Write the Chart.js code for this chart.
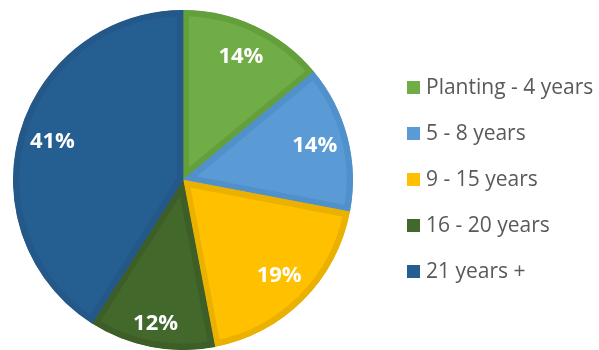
<!DOCTYPE html>
<html>
<head>
<meta charset="utf-8">
<script src="https://cdn.jsdelivr.net/npm/chart.js@4"></script>
<style>
  html, body { margin: 0; padding: 0; background: #ffffff; }
  #wrap { position: relative; width: 599px; height: 350px; }
</style>
</head>
<body>
<div id="wrap"><canvas id="chartEdad"></canvas></div>
<script>
// =========================================
// DATOS
// =========================================
const categorias = ['Planting - 4 years', '5 - 8 years', '9 - 15 years', '16 - 20 years', '21 years +'];
const porcentajes = [14, 14, 19, 12, 41];
const rellenos = ['#70AD47', '#5B9BD5', '#FFC000', '#43682B', '#255E91'];
const bordes = ['#63A03C', '#5090CB', '#EBB100', '#3D5F27', '#235889'];

// =========================================
// ETIQUETAS DENTRO DE CADA PORCION
// =========================================
// distancia al centro (fraccion del radio) de cada etiqueta
const distEtiqueta = [0.8, 0.8, 0.8, 0.86, 0.8];

const etiquetas = {
  id: 'etiquetas',
  afterDatasetsDraw(chart){
    const ctx = chart.ctx;
    const meta = chart.getDatasetMeta(0);
    ctx.save();
    ctx.fillStyle = '#ffffff';
    ctx.font = 'bold 22px "Open Sans"';
    ctx.textAlign = 'center';
    ctx.textBaseline = 'middle';
    meta.data.forEach((arc, i) => {
      const p = arc.getProps(['x', 'y', 'startAngle', 'endAngle', 'outerRadius']);
      const mid = (p.startAngle + p.endAngle) / 2;
      const r = p.outerRadius * distEtiqueta[i];
      ctx.fillText(porcentajes[i] + '%', p.x + Math.cos(mid) * r, p.y + Math.sin(mid) * r);
    });
    ctx.restore();
  }
};

// =========================================
// LEYENDA A LA DERECHA
// =========================================
const leyenda = {
  id: 'leyenda',
  afterDraw(chart){
    const ctx = chart.ctx;
    ctx.save();
    ctx.font = '21px "Open Sans"';
    ctx.textBaseline = 'middle';
    chart.data.labels.forEach((txt, i) => {
      const y = 87 + i * 46;
      ctx.fillStyle = chart.data.datasets[0].backgroundColor[i];
      ctx.fillRect(407, y - 6, 13, 13);
      ctx.fillStyle = '#595959';
      ctx.fillText(txt, 426, y + 1);
    });
    ctx.restore();
  }
};

new Chart(document.getElementById('chartEdad'), {

  type: 'pie',

  data: {
    labels: categorias,
    datasets: [{
      data: porcentajes,
      backgroundColor: rellenos,
      borderColor: bordes,
      borderWidth: 6,
      borderAlign: 'inner'
    }]
  },

  options:{
    responsive:true,
    maintainAspectRatio:false,
    animation:false,
    radius:170,
    layout:{
      padding:{ left:13, top:10, right:246, bottom:0 }
    },
    plugins:{
      legend:{ display:false },
      tooltip:{ enabled:false }
    }
  },

  plugins:[etiquetas, leyenda]

});
</script>
</body>
</html>
